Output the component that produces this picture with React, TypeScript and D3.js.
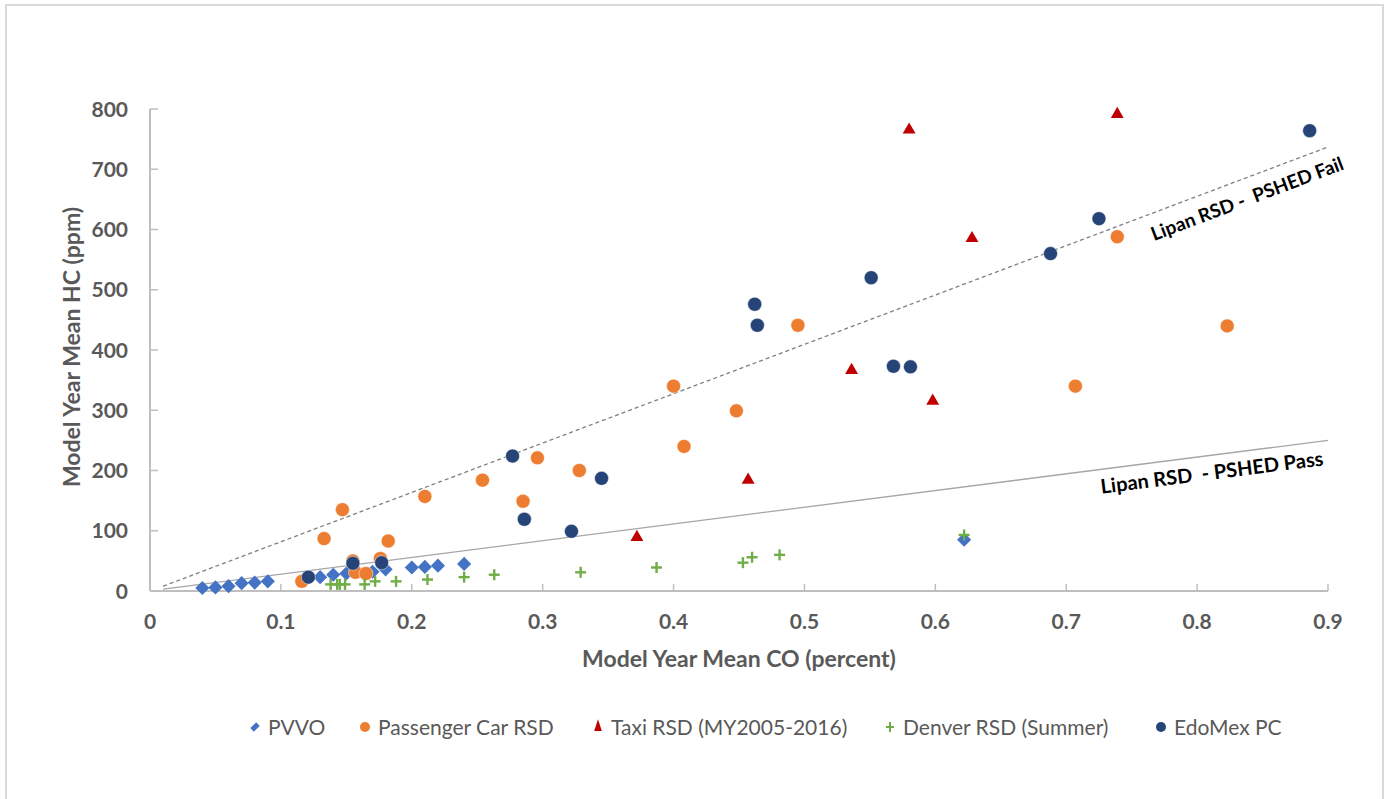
import React from 'react';
import * as d3 from 'd3';

// series values: [CO percent, HC ppm]
const pvvo: [number, number][] = [
  [0.04, 5], [0.05, 6], [0.06, 8], [0.07, 13], [0.08, 14], [0.09, 16],
  [0.13, 23], [0.14, 27], [0.15, 29], [0.17, 32], [0.18, 36], [0.2, 39],
  [0.21, 40], [0.22, 42], [0.24, 45], [0.622, 85],
];
const passengerCar: [number, number][] = [
  [0.116, 16], [0.133, 87], [0.147, 135], [0.155, 50], [0.157, 31], [0.165, 29],
  [0.176, 54], [0.182, 83], [0.21, 157], [0.254, 184], [0.285, 149], [0.296, 221],
  [0.328, 200], [0.4, 340], [0.408, 240], [0.448, 299], [0.495, 441], [0.707, 340],
  [0.739, 588], [0.823, 440],
];
const taxi: [number, number][] = [
  [0.372, 91], [0.457, 186], [0.536, 368], [0.58, 767], [0.598, 317], [0.628, 587],
  [0.739, 793],
];
const denver: [number, number][] = [
  [0.138, 11], [0.143, 11], [0.145, 11], [0.149, 11], [0.164, 11], [0.172, 16],
  [0.188, 16], [0.212, 19], [0.24, 23], [0.263, 27], [0.329, 31], [0.387, 39],
  [0.453, 47], [0.46, 56], [0.481, 60], [0.622, 93],
];
const edomex: [number, number][] = [
  [0.121, 23], [0.155, 46], [0.177, 47], [0.277, 224], [0.286, 119], [0.322, 99],
  [0.345, 187], [0.462, 476], [0.464, 441], [0.551, 520], [0.568, 373], [0.581, 372],
  [0.688, 560], [0.725, 618], [0.886, 764],
];

const failLine: [number, number][] = [[0.01, 8], [0.9, 737]];
const passLine: [number, number][] = [[0.01, 3], [0.9, 250]];

const xTicks = [0, 0.1, 0.2, 0.3, 0.4, 0.5, 0.6, 0.7, 0.8, 0.9];
const yTicks = [0, 100, 200, 300, 400, 500, 600, 700, 800];

const legendLabels = ['PVVO', 'Passenger Car RSD', 'Taxi RSD (MY2005-2016)', 'Denver RSD (Summer)', 'EdoMex PC'];
const legendX = [255, 365, 598, 890, 1161];

const colors = {
  pvvo: '#4472C4',
  car: '#ED7D31',
  taxi: '#C00000',
  denver: '#70AD47',
  edomex: '#264478',
};

const font = 'Lato, "Open Sans", sans-serif';
const gray = '#595959';
const axisGray = '#bfbfbf';

const W = 1388;
const H = 799;

const x = d3.scaleLinear().domain([0, 0.9]).range([150, 1328]);
const y = d3.scaleLinear().domain([0, 800]).range([591, 109]);

const diamond = d3.symbol().type(d3.symbolSquare).size(100)();
const triangle = d3.symbol().type(d3.symbolTriangle).size(72)();

const Diamond = ({ cx, cy }: { cx: number; cy: number }) => (
  <path d={diamond as string} transform={`translate(${cx},${cy}) rotate(45)`} fill={colors.pvvo} />
);
const Circle = ({ cx, cy, color }: { cx: number; cy: number; color: string }) => (
  <circle cx={cx} cy={cy} r={7} fill={color} stroke="#fff" strokeOpacity={0.6} strokeWidth={0.8} />
);
const Triangle = ({ cx, cy }: { cx: number; cy: number }) => (
  <path d={triangle as string} transform={`translate(${cx},${cy + 1})`} fill={colors.taxi} />
);
const Plus = ({ cx, cy }: { cx: number; cy: number }) => (
  <g stroke={colors.denver} strokeWidth={2.4}>
    <line x1={cx - 5.5} x2={cx + 5.5} y1={cy} y2={cy} />
    <line x1={cx} x2={cx} y1={cy - 5.5} y2={cy + 5.5} />
  </g>
);

const line = d3.line<[number, number]>().x((d) => x(d[0])).y((d) => y(d[1]));

// angle of a line in screen space, for the rotated labels
const angleOf = (l: [number, number][]) =>
  (Math.atan2(y(l[1][1]) - y(l[0][1]), x(l[1][0]) - x(l[0][0])) * 180) / Math.PI;

export default function App() {
  const failAngle = angleOf(failLine);
  const passAngle = angleOf(passLine);
  const failLx = x(0.84);
  const failLy = y(0.84 * 820) + 29;
  const passLx = x(0.812);
  const passLy = y(0.812 * 278) + 24.5;

  const legendMarker = (i: number, cx: number, cy: number) => {
    if (i === 0) return <path d={d3.symbol().type(d3.symbolSquare).size(40)() as string} transform={`translate(${cx},${cy}) rotate(45) scale(0.8,1.3)`} fill={colors.pvvo} />;
    if (i === 1) return <circle cx={cx} cy={cy} r={5} fill={colors.car} />;
    if (i === 2) return <path d={d3.symbol().type(d3.symbolTriangle).size(40)() as string} transform={`translate(${cx},${cy}) scale(0.8,1.4)`} fill={colors.taxi} />;
    if (i === 3)
      return (
        <g stroke={colors.denver} strokeWidth={2}>
          <line x1={cx - 4} x2={cx + 4} y1={cy} y2={cy} />
          <line x1={cx} x2={cx} y1={cy - 5} y2={cy + 5} />
        </g>
      );
    return <circle cx={cx} cy={cy} r={5} fill={colors.edomex} />;
  };

  return (
    <svg width={W} height={H} style={{ position: 'absolute', left: 0, top: 0, background: '#fff' }} fontFamily={font}>
      <rect x={6} y={5} width={1377} height={H + 10} fill="#fff" stroke="#d9d9d9" strokeWidth={2} />

      {/* axes */}
      <line x1={x(0)} x2={x(0.9)} y1={y(0)} y2={y(0)} stroke={axisGray} strokeWidth={2} />
      <line x1={x(0)} x2={x(0)} y1={y(0)} y2={y(800)} stroke={axisGray} strokeWidth={2} />
      {xTicks.map((t) => (
        <g key={`x${t}`}>
          <line x1={x(t)} x2={x(t)} y1={y(0)} y2={y(0) - 7} stroke={axisGray} strokeWidth={1.5} />
          <text x={x(t)} y={629} textAnchor="middle" fontSize={21} fontWeight="bold" fill={gray}>
            {t === 0 ? '0' : t.toFixed(1)}
          </text>
        </g>
      ))}
      {yTicks.map((t) => (
        <g key={`y${t}`}>
          <line x1={x(0)} x2={x(0) + 8} y1={y(t)} y2={y(t)} stroke={axisGray} strokeWidth={1.5} />
          <text x={128} y={y(t) + 7.5} textAnchor="end" fontSize={21} fontWeight="bold" fill={gray}>
            {t}
          </text>
        </g>
      ))}
      <text x={739} y={667} textAnchor="middle" fontSize={23} fontWeight="bold" fill={gray}>
        Model Year Mean CO (percent)
      </text>
      <text transform={`translate(80,347) rotate(-90)`} textAnchor="middle" fontSize={23} fontWeight="bold" fill={gray}>
        Model Year Mean HC (ppm)
      </text>

      {/* limit lines */}
      <path d={line(failLine) as string} fill="none" stroke="#7f7f7f" strokeWidth={1.3} strokeDasharray="4 3" />
      <path d={line(passLine) as string} fill="none" stroke="#a6a6a6" strokeWidth={1.3} />
      <text
        transform={`translate(${failLx},${failLy}) rotate(${failAngle})`}
        textAnchor="middle"
        fontSize={19}
        fontWeight="bold"
        fill="#000"
        style={{ whiteSpace: 'pre' }}
      >
        {'Lipan RSD -  PSHED Fail'}
      </text>
      <text
        transform={`translate(${passLx},${passLy}) rotate(${passAngle})`}
        textAnchor="middle"
        fontSize={20}
        fontWeight="bold"
        fill="#000"
        style={{ whiteSpace: 'pre' }}
      >
        {'Lipan RSD  - PSHED Pass'}
      </text>

      {/* series */}
      {pvvo.map((d, i) => <Diamond key={`p${i}`} cx={x(d[0])} cy={y(d[1])} />)}
      {passengerCar.map((d, i) => <Circle key={`c${i}`} cx={x(d[0])} cy={y(d[1])} color={colors.car} />)}
      {taxi.map((d, i) => <Triangle key={`t${i}`} cx={x(d[0])} cy={y(d[1])} />)}
      {denver.map((d, i) => <Plus key={`d${i}`} cx={x(d[0])} cy={y(d[1])} />)}
      {edomex.map((d, i) => <Circle key={`e${i}`} cx={x(d[0])} cy={y(d[1])} color={colors.edomex} />)}

      {/* legend */}
      {legendLabels.map((l, i) => (
        <g key={l}>
          {legendMarker(i, legendX[i], 727)}
          <text x={legendX[i] + 13} y={735} fontSize={21} fill={gray}>
            {l}
          </text>
        </g>
      ))}
    </svg>
  );
}
